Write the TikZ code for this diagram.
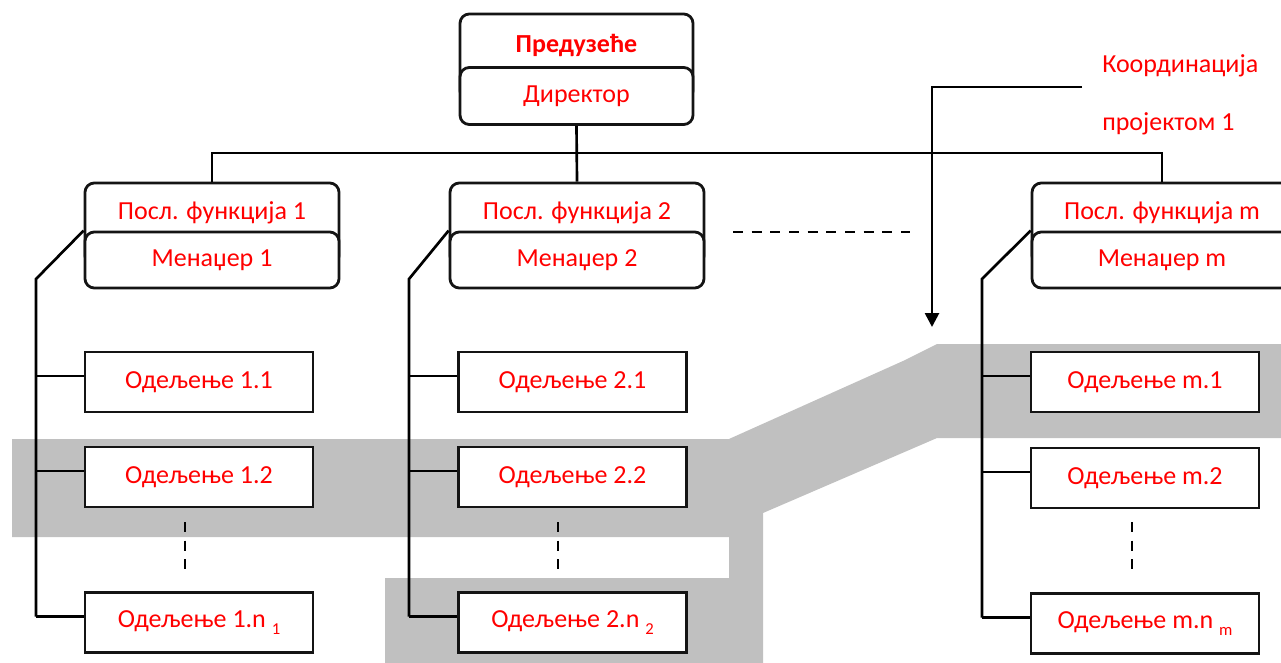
\documentclass[tikz,border=0pt]{standalone}
\usepackage{fontspec}
\setmainfont{Carlito}
\usetikzlibrary{arrows.meta}
\definecolor{txtred}{RGB}{255,0,0}
\definecolor{bandgrey}{RGB}{192,192,192}
\definecolor{lineblk}{RGB}{20,20,20}
\newcommand{\subidx}[1]{{\fontsize{12.5}{13}\selectfont\raisebox{-5pt}{#1}}}
\begin{document}
\begin{tikzpicture}[x=0.75pt,y=-0.75pt,
  lbl/.style={text=txtred,font=\fontsize{19.5}{22}\selectfont,inner sep=0pt},
  rbox/.style={draw=lineblk,line width=2.1pt,rounded corners=7pt,fill=white,inner sep=0pt},
  sbox/.style={draw=lineblk,line width=2.1pt,fill=white,text=txtred,font=\fontsize{19.5}{22}\selectfont,
    minimum width=171pt,minimum height=45pt,inner sep=0pt},
  conn/.style={draw=black,line width=2pt},
  dashln/.style={line width=1.9pt,dash pattern=on 7.5pt off 6.5pt}]
\clip (0,0) rectangle (1281,663);
\fill[white] (0,0) rectangle (1281,663);
% grey band
\fill[bandgrey] (12,439) -- (729,439) -- (903,361) -- (937,344) -- (1281,344) -- (1281,438)
  -- (937,438) -- (763,513) -- (763,663) -- (385,663) -- (385,578) -- (729,578) -- (729,537)
  -- (12,537) -- cycle;
% top box
\node[rbox,minimum width=174.75pt,minimum height=64.5pt] (ent) at (576.5,57) {};
\node[lbl,font=\bfseries\fontsize{19.5}{22}\selectfont] (entt) at (576.5,45) {Предузеће};
\node[rbox,minimum width=174.75pt,minimum height=42.75pt,text=txtred,font=\fontsize{19.5}{22}\selectfont] (dir) at (576.5,96) {Директор};
% function boxes
\node[rbox,minimum width=190.5pt,minimum height=61.5pt] (p1) at (212,224) {};
\node[lbl] (p1t) at (212,213) {Посл. функција 1};
\node[rbox,minimum width=190.5pt,minimum height=42pt,text=txtred,font=\fontsize{19.5}{22}\selectfont] (m1) at (212,260) {Менаџер 1};
\node[rbox,minimum width=190.5pt,minimum height=61.5pt] (p2) at (577,224) {};
\node[lbl] (p2t) at (577,213) {Посл. функција 2};
\node[rbox,minimum width=190.5pt,minimum height=42pt,text=txtred,font=\fontsize{19.5}{22}\selectfont] (m2) at (577,260) {Менаџер 2};
\node[rbox,minimum width=195pt,minimum height=61.5pt] (pm) at (1162,224) {};
\node[lbl] (pmt) at (1162,213) {Посл. функција m};
\node[rbox,minimum width=195pt,minimum height=42pt,text=txtred,font=\fontsize{19.5}{22}\selectfont] (mm) at (1162,260) {Менаџер m};
% bus
\coordinate (bus) at (577,153);
\draw[conn] (dir.south) -- (p2.north);
\draw[conn] (p1.north) |- (bus) -| (pm.north);
% department boxes column 1
\node[sbox] (d11) at (199,382) {Одељење 1.1};
\node[sbox] (d12) at (199,477) {Одељење 1.2};
\node[sbox] (d1n) at (199,622.5) {Одељење 1.n \subidx{1}};
% column 2
\node[sbox] (d21) at (572.5,382) {Одељење 2.1};
\node[sbox] (d22) at (572.5,477) {Одељење 2.2};
\node[sbox] (d2n) at (572.5,622.5) {Одељење 2.n \subidx{2}};
% column m
\node[sbox] (dm1) at (1145,382) {Одељење m.1};
\node[sbox] (dm2) at (1145,478) {Одељење m.2};
\node[sbox] (dmn) at (1145,623.5) {Одељење m.n \subidx{m}};
% trunks
\coordinate (k1) at (36,279);
\coordinate (k2) at (409,279);
\coordinate (km) at (982,279);
\foreach \m/\k/\a/\b/\c in {m1/k1/d11/d12/d1n, m2/k2/d21/d22/d2n, mm/km/dm1/dm2/dmn}{
  \coordinate (\a-w) at ([yshift=4.5pt]\a.west);
  \coordinate (\b-w) at ([yshift=4.5pt]\b.west);
  \coordinate (\c-w) at ([yshift=4.5pt]\c.west);
  \draw[conn] (\m.north west) -- (\k) -- (\k |- \c-w);
  \draw[conn] (\a-w) -- (\a-w -| \k);
  \draw[conn] (\b-w) -- (\b-w -| \k);
  \draw[conn] (\c-w) -- (\c-w -| \k);
}
% vertical ellipsis dashes
\coordinate (e1a) at (185,522); \coordinate (e1b) at (185,569);
\coordinate (e2a) at (558,522); \coordinate (e2b) at (558,569);
\coordinate (ema) at (1132,522); \coordinate (emb) at (1132,569);
\draw[dashln] (e1a) -- (e1b);
\draw[dashln] (e2a) -- (e2b);
\draw[dashln] (ema) -- (emb);
% horizontal ellipsis
\coordinate (ha) at (733,232); \coordinate (hb) at (910,232);
\draw[dashln] (ha) -- (hb);
% coordination
\node[lbl,anchor=west] (co1) at (1102,66) {Координација};
\node[lbl,anchor=west] (co2) at (1102,124) {пројектом 1};
\coordinate (cs) at (1082,87);
\coordinate (ct) at (932,327);
\draw[conn,-{Triangle[width=10.5pt,length=10.5pt]}] (cs) -| (ct);
\end{tikzpicture}
\end{document}
